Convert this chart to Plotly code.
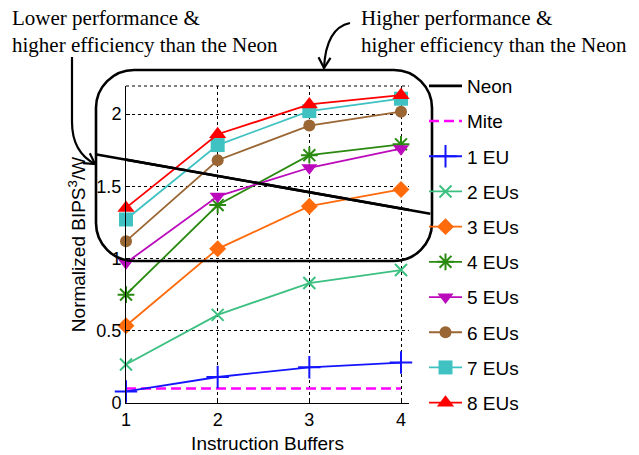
import math
import plotly.graph_objects as go

# ---------------- data ----------------
X = [1, 2, 3, 4]
MITE = [0.1, 0.1, 0.1, 0.1]
EU1 = [0.08, 0.18, 0.247, 0.28]
EU2 = [0.266, 0.61, 0.83, 0.92]
EU3 = [0.535, 1.067, 1.362, 1.478]
EU4 = [0.75, 1.37, 1.715, 1.79]
EU5 = [0.97, 1.43, 1.628, 1.76]
EU6 = [1.12, 1.68, 1.92, 2.016]
EU7 = [1.27, 1.785, 2.02, 2.106]
EU8 = [1.35, 1.86, 2.066, 2.13]
NEON_X = [0.68, 4.32]
NEON_Y = [1.72, 1.31]

X_TICKS = [1, 2, 3, 4]
Y_TICKS = [0, 0.5, 1, 1.5, 2]
Y_TICK_LABELS = ["0", "0.5", "1", "1.5", "2"]

SERIES = [
    ("1 EU", EU1, "#1414FF", "cross-thin-open", 16),
    ("2 EUs", EU2, "#3CC081", "x-thin-open", 12),
    ("3 EUs", EU3, "#FF6A0A", "diamond", 13),
    ("4 EUs", EU4, "#2A8A10", "asterisk-open", 14),
    ("5 EUs", EU5, "#BB0ABB", "triangle-down", 14),
    ("6 EUs", EU6, "#9A6633", "circle", 12),
    ("7 EUs", EU7, "#40C2C2", "square", 14),
    ("8 EUs", EU8, "#FF0000", "triangle-up", 15),
]

# ---------------- geometry ----------------
WIDTH, HEIGHT = 639, 455
L, R, T, B = 126, 409, 86, 403
PW, PH = R - L, B - T
XR = [1, 1 + 3 * PW / 275.0]
YR = [0, PH / 144.5]


def px(x):
    return (x - L) / PW


def py(y):
    return (B - y) / PH


def path(points_cmds):
    out = []
    for cmd, pts in points_cmds:
        s = cmd
        s += " ".join("%.5f,%.5f" % (px(a), py(b)) for a, b in pts)
        out.append(s)
    return " ".join(out)


def arrowhead(tip, frm, length=12, ang=30):
    dx, dy = tip[0] - frm[0], tip[1] - frm[1]
    n = math.hypot(dx, dy)
    bx, by = -dx / n, -dy / n
    wings = []
    for s in (1, -1):
        a = math.radians(ang * s)
        wx = bx * math.cos(a) - by * math.sin(a)
        wy = bx * math.sin(a) + by * math.cos(a)
        wings.append((tip[0] + length * wx, tip[1] + length * wy))
    return path([("M", [wings[0]]), ("L", [tip]), ("L", [wings[1]])])


fig = go.Figure()

FONT = "Liberation Sans, Arial, sans-serif"
SERIF = "Liberation Serif, Times New Roman, serif"

# Neon (legend entry; the line itself is drawn as a shape so it can extend past the axes)
fig.add_trace(go.Scatter(x=NEON_X, y=NEON_Y, mode="lines", name="Neon",
                         line=dict(color="black", width=2.6), legendgroup="neon"))
fig.add_trace(go.Scatter(x=X, y=MITE, mode="lines", name="Mite",
                         line=dict(color="#FF00FF", width=2.6, dash="10px,5px"),
                         legendgroup="mite"))
for name, ys, col, sym, sz in SERIES:
    open_sym = sym.endswith("open")
    fig.add_trace(go.Scatter(
        x=X, y=ys, mode="lines+markers", name=name, legendgroup=name,
        cliponaxis=False,
        line=dict(color=col, width=1.8),
        marker=dict(symbol=sym, size=sz, color=col,
                    line=dict(color=col, width=2 if open_sym else 0)),
    ))

shapes = []
# Neon line, computed from data into axis-domain coordinates (unclipped)
shapes.append(dict(type="line", xref="x domain", yref="y domain",
                   x0=(NEON_X[0] - XR[0]) / (XR[1] - XR[0]),
                   y0=(NEON_Y[0] - YR[0]) / (YR[1] - YR[0]),
                   x1=(NEON_X[1] - XR[0]) / (XR[1] - XR[0]),
                   y1=(NEON_Y[1] - YR[0]) / (YR[1] - YR[0]),
                   line=dict(color="black", width=2.6)))
# top dotted border
shapes.append(dict(type="line", xref="x domain", yref="y domain", x0=0, x1=1, y0=1, y1=1,
                   line=dict(color="black", width=1, dash="dot")))
# rounded box
bx0, by0, bx1, by1, r = 96, 70, 432, 261, 38
k = 0.45
box = path([
    ("M", [(bx0 + r, by0)]),
    ("L", [(bx1 - r, by0)]),
    ("C", [(bx1 - r * k, by0), (bx1, by0 + r * k), (bx1, by0 + r)]),
    ("L", [(bx1, by1 - r)]),
    ("C", [(bx1, by1 - r * k), (bx1 - r * k, by1), (bx1 - r, by1)]),
    ("L", [(bx0 + r, by1)]),
    ("C", [(bx0 + r * k, by1), (bx0, by1 - r * k), (bx0, by1 - r)]),
    ("L", [(bx0, by0 + r)]),
    ("C", [(bx0, by0 + r * k), (bx0 + r * k, by0), (bx0 + r, by0)]),
]) + " Z"
shapes.append(dict(type="path", xref="paper", yref="paper", path=box,
                   line=dict(color="black", width=2.6)))
# left curved arrow
la = path([("M", [(72, 57)]), ("L", [(72, 122)]), ("Q", [(72, 152), (95, 164)])])
shapes.append(dict(type="path", xref="paper", yref="paper", path=la,
                   line=dict(color="black", width=2.2)))
shapes.append(dict(type="path", xref="paper", yref="paper",
                   path=arrowhead((95, 164), (76, 151)), line=dict(color="black", width=2.2)))
# right curved arrow
ra = path([("M", [(350, 23)]), ("Q", [(326, 28), (324, 68)])])
shapes.append(dict(type="path", xref="paper", yref="paper", path=ra,
                   line=dict(color="black", width=2.2)))
shapes.append(dict(type="path", xref="paper", yref="paper",
                   path=arrowhead((324, 68), (325, 48)), line=dict(color="black", width=2.2)))

annotations = [
    dict(xref="paper", yref="paper", x=px(10), y=py(4), xanchor="left", yanchor="top",
         align="left", showarrow=False,
         text="Lower performance &amp;<br>higher efficiency than the Neon",
         font=dict(family=SERIF, size=21, color="black")),
    dict(xref="paper", yref="paper", x=px(359), y=py(4), xanchor="left", yanchor="top",
         align="left", showarrow=False,
         text="Higher performance &amp;<br>higher efficiency than the Neon",
         font=dict(family=SERIF, size=21, color="black")),
]

fig.update_layout(
    width=WIDTH, height=HEIGHT,
    margin=dict(l=L, r=WIDTH - R, t=T, b=HEIGHT - B, pad=0, autoexpand=False),
    paper_bgcolor="white", plot_bgcolor="white",
    font=dict(family=FONT, size=18, color="black"),
    showlegend=True,
    legend=dict(x=px(424), y=py(67), xanchor="left", yanchor="top",
                font=dict(family=FONT, size=19, color="black"),
                tracegroupgap=7.5, bgcolor="rgba(0,0,0,0)", itemwidth=33,
                maxheight=440),
    shapes=shapes,
    annotations=annotations,
)
fig.update_xaxes(range=XR, tickvals=X_TICKS, ticktext=[str(v) for v in X_TICKS],
                 showgrid=True, gridcolor="black", griddash="dot", gridwidth=1,
                 showline=True, linecolor="black", linewidth=1, zeroline=False,
                 ticks="inside", ticklen=4, tickcolor="black",
                 title=dict(text="Instruction Buffers", standoff=8,
                            font=dict(family=FONT, size=19)),
                 tickfont=dict(family=FONT, size=18))
fig.update_yaxes(range=YR, tickvals=Y_TICKS, ticktext=Y_TICK_LABELS,
                 showgrid=True, gridcolor="black", griddash="dot", gridwidth=1,
                 showline=True, linecolor="black", linewidth=1, zeroline=False,
                 ticks="inside", ticklen=4, tickcolor="black",
                 title=dict(text="Normalized BIPS<sup>3</sup>/W", standoff=5,
                            font=dict(family=FONT, size=19)),
                 tickfont=dict(family=FONT, size=18))

fig.write_html("out.html", config={"displayModeBar": False},
               post_script="document.body.style.margin='0px';document.body.style.padding='0px';")
